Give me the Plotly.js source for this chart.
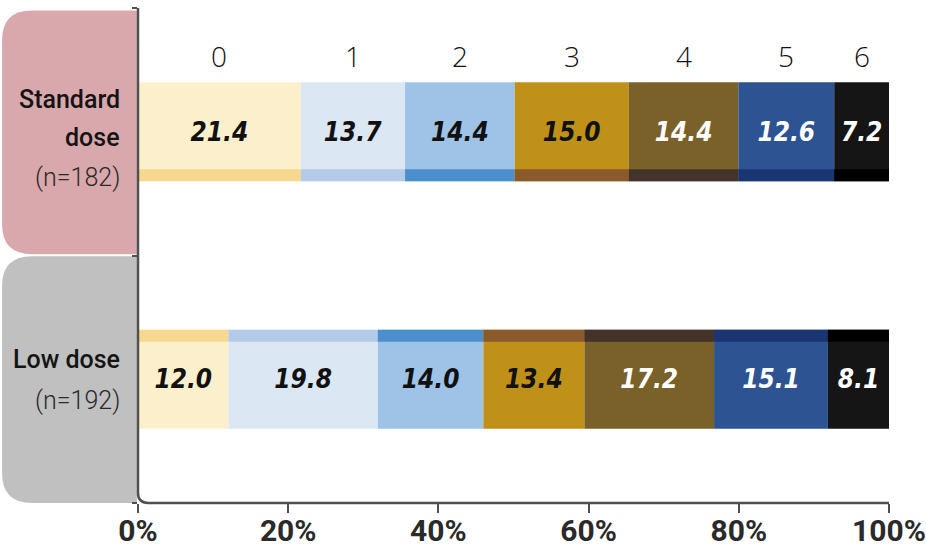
<!DOCTYPE html>
<html>
<head>
<meta charset="utf-8">
<script src="https://cdn.plot.ly/plotly-3.0.1.min.js"></script>
<style>
  html, body { margin: 0; padding: 0; background: #ffffff; }
  #chart { width: 926px; height: 557px; }
</style>
</head>
<body>
<div id="chart"></div>
<script>
// ---- data ----
const groups = ["Standard dose", "Low dose"];
const groupN = [182, 192];
const scores = ["0", "1", "2", "3", "4", "5", "6"];
const standardPct = [21.4, 13.7, 14.4, 15.0, 14.4, 12.6, 7.2];
const lowPct = [12.0, 19.8, 14.0, 13.4, 17.2, 15.1, 8.1];
const xTicks = [0, 20, 40, 60, 80, 100];

// ---- styling ----
const FILL = ["#fcefcc", "#dce7f4", "#9ec3e6", "#bf9119", "#7a6129", "#2d5393", "#151515"];
const STRIPE = ["#f6d98e", "#b3cae8", "#4b90cd", "#8b5a2c", "#43332a", "#1a3572", "#000000"];
const LABEL_COLOR = ["#111", "#111", "#111", "#111", "#fff", "#fff", "#fff"];
const AXIS = "#505050";
const COND = "DejaVu Sans Condensed, sans-serif";

// y positions: Standard dose on top
const yPos = [1, 0];
const BAR_W = 0.4;
const STRIPE_W = 0.048;

// bars are drawn normalised so every row fills 0–100 %
function shares(vals) {
  const total = vals.reduce((a, b) => a + b, 0);
  return vals.map((v) => (v / total) * 100);
}
function starts(sh) {
  const out = [];
  let acc = 0;
  sh.forEach((s) => { out.push(acc); acc += s; });
  return out;
}

const rows = [standardPct, lowPct];
const rowShares = rows.map(shares);
const rowStarts = rowShares.map(starts);

const traces = [];
scores.forEach((s, i) => {
  traces.push({
    type: "bar",
    orientation: "h",
    name: s,
    y: yPos,
    x: rowShares.map((r) => r[i]),
    base: rowStarts.map((r) => r[i]),
    width: BAR_W,
    marker: { color: FILL[i], line: { width: 0 } },
    text: rows.map((r) => r[i].toFixed(1)),
    textposition: "inside",
    insidetextanchor: "middle",
    constraintext: "none",
    textangle: 0,
    textfont: { family: COND, size: 26, color: LABEL_COLOR[i], weight: "bold", style: "italic" },
    hoverinfo: "skip",
    showlegend: false,
  });
  // darker edge stripe: bottom of the upper bar, top of the lower bar
  traces.push({
    type: "bar",
    orientation: "h",
    y: yPos,
    x: rowShares.map((r) => r[i]),
    base: rowStarts.map((r) => r[i]),
    width: STRIPE_W,
    offset: [-BAR_W / 2, BAR_W / 2 - STRIPE_W],
    marker: { color: STRIPE[i], line: { width: 0 } },
    hoverinfo: "skip",
    showlegend: false,
  });
});

// score labels above the upper bar, centred on its segments
const annotations = scores.map((s, i) => ({
  x: rowStarts[0][i] + rowShares[0][i] / 2,
  xref: "x",
  y: 0.945,
  yref: "paper",
  text: s,
  showarrow: false,
  font: { family: "Open Sans, sans-serif", size: 28, color: "#111", weight: 300 },
}));

// group labels in the side boxes, one annotation per line
const groupLines = [["Standard", "dose"], ["Low dose"]];
const lineShifts = [[32, -6, -46], [20, -21]];
groups.forEach((g, k) => {
  const lines = groupLines[k].concat(["(n=" + groupN[k] + ")"]);
  lines.forEach((txt, j) => {
    const isCount = j === lines.length - 1;
    annotations.push({
      x: -0.021,
      xref: "paper",
      xanchor: "right",
      y: yPos[k],
      yref: "y",
      yshift: lineShifts[k][j],
      text: txt,
      showarrow: false,
      font: {
        family: "Roboto, sans-serif",
        size: 25,
        color: isCount ? "#2a2a2a" : "#141414",
        weight: isCount ? 300 : 500,
      },
    });
  });
});

// side boxes with rounded left corners (x in paper, y in data)
function sideBox(y0, y1, color) {
  const x0 = -0.181, x1 = -0.0015, rx = 0.04, ry = 0.12;
  return {
    type: "path",
    xref: "paper",
    yref: "y",
    path: `M ${x1},${y1} L ${x0 + rx},${y1} Q ${x0},${y1} ${x0},${y1 - ry} ` +
          `L ${x0},${y0 + ry} Q ${x0},${y0} ${x0 + rx},${y0} L ${x1},${y0} Z`,
    fillcolor: color,
    line: { width: 0 },
    layer: "below",
  };
}

const shapes = [
  sideBox(0.505, 1.49, "#d9a8ad"),
  sideBox(-0.5, 0.497, "#c0c0c0"),
  {
    type: "path",
    xref: "paper",
    yref: "paper",
    path: "M 0,1 L 0,0.02 Q 0,0 0.0133,0 L 1,0",
    line: { color: AXIS, width: 2.5 },
  },
];

const layout = {
  width: 926,
  height: 557,
  paper_bgcolor: "#ffffff",
  plot_bgcolor: "rgba(0,0,0,0)",
  margin: { l: 138, r: 37, t: 8, b: 54 },
  barmode: "overlay",
  xaxis: {
    range: [0, 100],
    tickvals: xTicks,
    ticktext: xTicks.map((t) => t + "%"),
    ticks: "outside",
    ticklen: 9,
    tickwidth: 2,
    tickcolor: AXIS,
    ticklabeloverflow: "allow",
    ticklabelstandoff: -8,
    showgrid: false,
    zeroline: false,
    showline: false,
    fixedrange: true,
    automargin: false,
    tickfont: { family: "Roboto, sans-serif", size: 30, color: "#2a2a2a", weight: "bold" },
  },
  yaxis: {
    range: [-0.5, 1.5],
    tickvals: [-0.5, 0.5, 1.5],
    ticks: "outside",
    ticklen: 5,
    tickwidth: 2,
    tickcolor: AXIS,
    showticklabels: false,
    showgrid: false,
    zeroline: false,
    showline: false,
    fixedrange: true,
    automargin: false,
  },
  shapes: shapes,
  annotations: annotations,
  showlegend: false,
};

Plotly.newPlot("chart", traces, layout, { displayModeBar: false, staticPlot: true });
</script>
</body>
</html>
